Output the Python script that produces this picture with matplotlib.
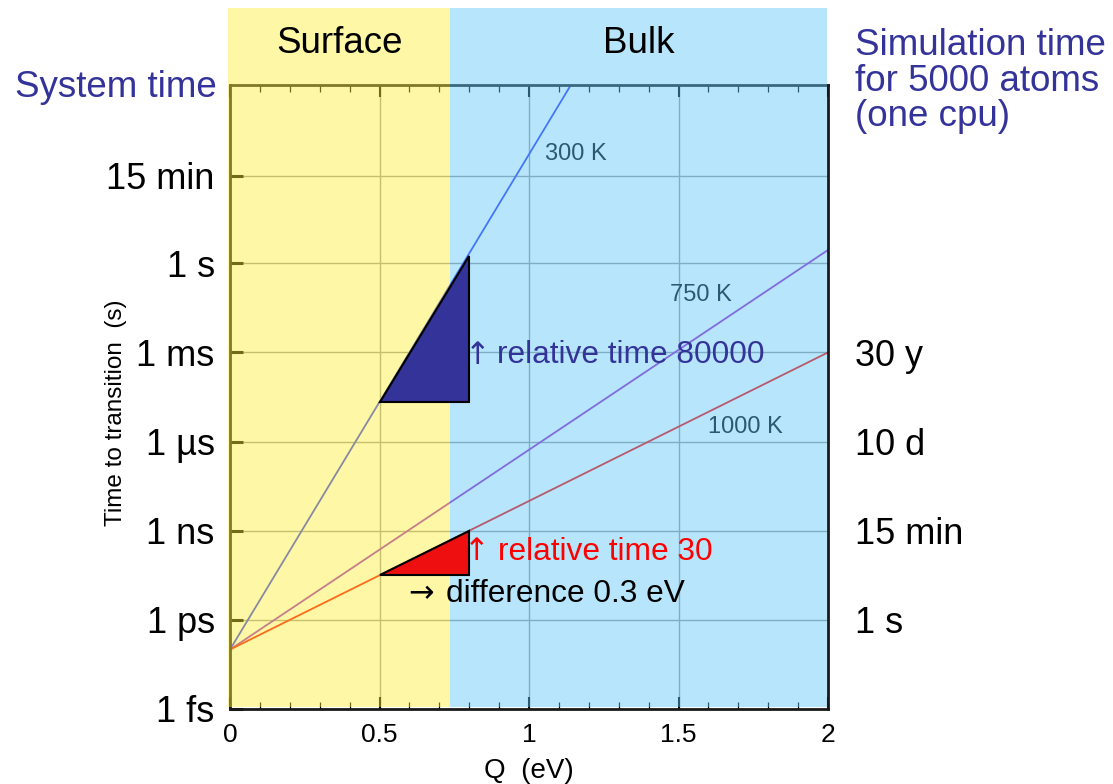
import matplotlib
matplotlib.use('Agg')
import matplotlib.pyplot as plt
from matplotlib.patches import Rectangle
from matplotlib.ticker import MultipleLocator, NullLocator

plt.rcParams['font.family'] = ['Liberation Sans', 'DejaVu Sans']

# barrier (eV) where the surface regime ends
surface_edge = 0.735
region_names = ['Surface', 'Bulk']

# transition time lines, t = t0 * exp(Q / kT), read as end points
temps = ['300 K', '750 K', '1000 K']
line_q = [[0, 1.14], [0, 2.0], [0, 2.0]]
line_t = [[1e-13, 1e6], [1e-13, 2.8], [1e-13, 1e-3]]
line_colors = ['#2a36ff', '#9a22cc', '#ff0000']
label_q = [1.156, 1.574, 1.722]
label_t = [4.8e3, 0.087, 3.2e-6]

y_ticks = [1e-15, 1e-12, 1e-9, 1e-6, 1e-3, 1, 900]
y_labels = ['1 fs', '1 ps', '1 ns', '1 µs', '1 ms', '1 s', '15 min']
sim_ticks = [1e-12, 1e-9, 1e-6, 1e-3]
sim_labels = ['1 s', '15 min', '10 d', '30 y']
x_ticks = [0, 0.5, 1, 1.5, 2]
x_labels = ['0', '0.5', '1', '1.5', '2']

# same 0.3 eV step at 300 K and 1000 K
step_q = [0.5, 0.8]
base_300 = 2.2e-5
ratio_300 = 80000
base_1000 = 3.3e-11
ratio_1000 = 30

fig = plt.figure(figsize=(11.13, 7.84), dpi=100)
ax = fig.add_axes([230 / 1113, 75 / 784, 598 / 1113, 624 / 784])
ax.set_yscale('log')
ax.set_xlim(0, 2)
ax.set_ylim(1e-15, 1e6)

for q, t, c in zip(line_q, line_t, line_colors):
    ax.plot(q, t, color=c, lw=1.3, zorder=2)
for q, t, name in zip(label_q, label_t, temps):
    ax.text(q, t, name, fontsize=17, ha='center', va='center', zorder=2)

# tinted regions sit on top of lines, grid and frame
trans = ax.get_xaxis_transform()
ax.add_patch(Rectangle((-0.006, 0.004), surface_edge + 0.006, 1.119, transform=trans,
                       facecolor='#fdef39', alpha=0.45, lw=0, clip_on=False, zorder=3))
ax.add_patch(Rectangle((surface_edge, 0.004), 2 - 0.004 - surface_edge, 1.119, transform=trans,
                       facecolor='#61c7f8', alpha=0.45, lw=0, clip_on=False, zorder=3))
ax.text(surface_edge / 2, 1.0513, region_names[0], transform=trans, ha='center',
        va='baseline', fontsize=26.5, zorder=5)
ax.text((surface_edge + 2) / 2, 1.0513, region_names[1], transform=trans, ha='center',
        va='baseline', fontsize=26.5, zorder=5)

q0, q1 = step_q
ax.fill([q0, q1, q1], [base_300, base_300, base_300 * ratio_300],
        facecolor='#333399', edgecolor='black', lw=1.5, zorder=4)
ax.fill([q0, q1, q1], [base_1000, base_1000, base_1000 * ratio_1000],
        facecolor='#ee1010', edgecolor='black', lw=1.5, zorder=4)

# arrows come from DejaVu, the Liberation ones are tiny
notes = [
    ('↑', 'relative time %d' % ratio_300, 0.828, 0.893, 7.9e-4, '#333399'),
    ('↑', 'relative time %d' % ratio_1000, 0.826, 0.896, 1.95e-10, '#ff0000'),
    ('→', 'difference %.1f eV' % (q1 - q0), 0.639, 0.722, 7.5e-12, 'black'),
]
for arrow, note, qa, qn, t, c in notes:
    ax.text(qa, t, arrow, family='DejaVu Sans', color=c, fontsize=22, ha='center',
            va='center', zorder=5)
    ax.text(qn, t, note, color=c, fontsize=22.8, va='center', zorder=5)

ax.set_xticks(x_ticks, x_labels)
ax.xaxis.set_minor_locator(MultipleLocator(0.1))
ax.set_yticks(y_ticks, y_labels)
ax.yaxis.set_minor_locator(NullLocator())
ax.tick_params(axis='x', which='major', direction='in', top=True, length=8.6, width=1.5,
               labelsize=19, pad=10)
ax.tick_params(axis='x', which='minor', direction='in', top=True, length=4.7, width=0.9)
ax.tick_params(axis='y', which='major', direction='in', right=True, length=9.4, width=2.2,
               labelsize=26, pad=11)
ax.grid(True, color='#999999', lw=1.0)
for s in ax.spines.values():
    s.set_linewidth(2)
    s.set_color('#1a1a1a')

ax.set_xlabel('Q  (eV)', fontsize=20)
ax.xaxis.set_label_coords(0.5, -0.078)
ax.set_ylabel('Time to transition  (s)', fontsize=17.5)
ax.yaxis.set_label_coords(-0.172, 0.474)

# simulation cost scale on the right
ax2 = ax.twinx()
ax2.set_yscale('log')
ax2.set_ylim(1e-15, 1e6)
ax2.set_yticks(sim_ticks, sim_labels)
ax2.yaxis.set_minor_locator(NullLocator())
ax2.tick_params(axis='y', length=0, labelsize=26, pad=19.5)
for s in ax2.spines.values():
    s.set_visible(False)

ax.text(-0.0217, 0.981, 'System time', transform=ax.transAxes, ha='right',
        va='baseline', fontsize=26.5, color='#333399')
for line, y in zip(['Simulation time', 'for 5000 atoms', '(one cpu)'], [1.048, 0.990, 0.934]):
    ax.text(1.045, y, line, transform=ax.transAxes, ha='left', va='baseline',
            fontsize=26.5, color='#333399')

fig.savefig('out.png', dpi=100)
